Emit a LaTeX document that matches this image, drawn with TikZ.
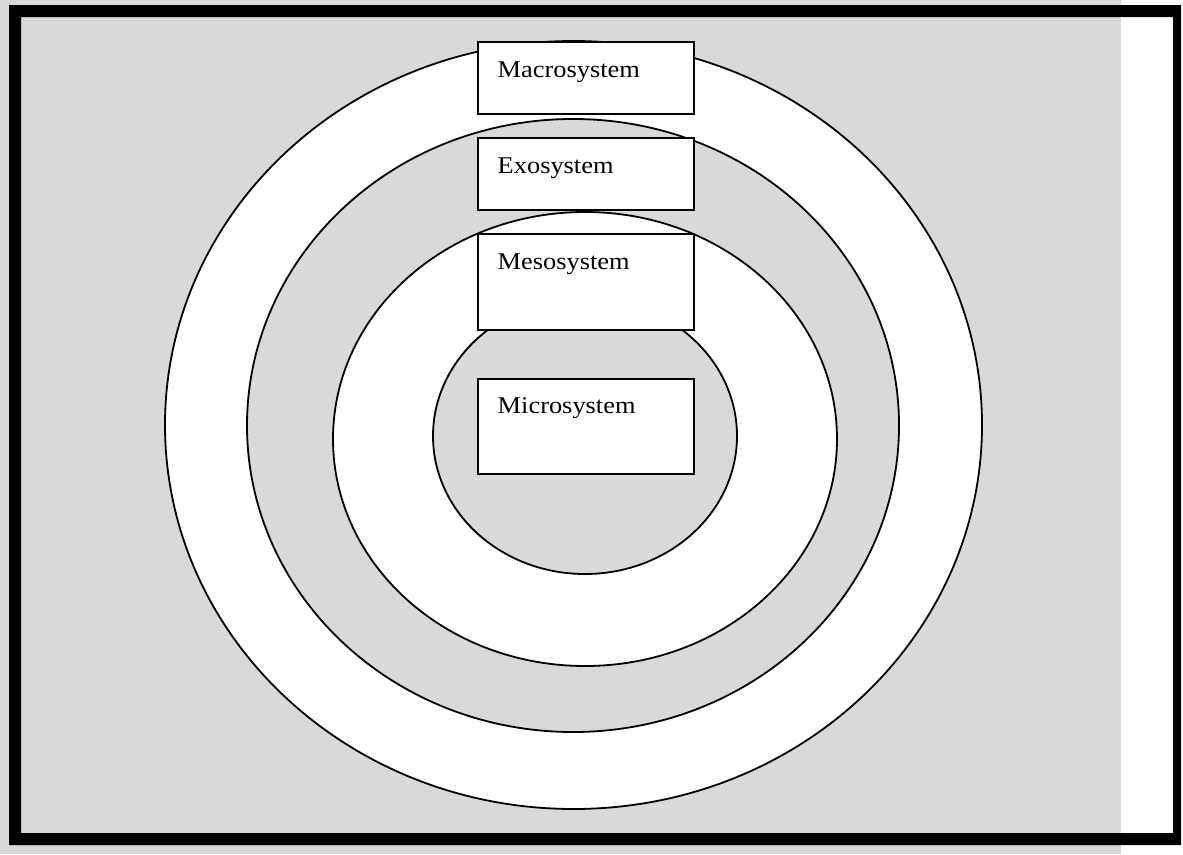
\documentclass[tikz,border=0pt]{standalone}
\usepackage{fontspec}
\setmainfont{Liberation Serif}
\definecolor{bggray}{HTML}{D9D9D9}
\tikzset{
  ring/.style={draw=black, line width=1.8pt},
  sysbox/.style={draw=black, fill=white, line width=1.6pt, rectangle, inner sep=0pt,
                 minimum width=216pt, anchor=north west},
  lbl/.style={font=\fontsize{24}{28}\selectfont, inner sep=0pt, anchor=base west, xscale=1.1},
}
\begin{document}
\begin{tikzpicture}[x=1pt, y=-1pt]
\useasboundingbox (0,0) rectangle (1183,854);
% background
\fill[bggray] (0,0) rectangle (1121,854);
\fill[white] (1121,0) rectangle (1183,854);
% frame
\fill[black, even odd rule] (9,5) rectangle (1181,845) (21,17) rectangle (1173,833);
% rings
\draw[ring, fill=white]   (573.5,425) ellipse [x radius=408.5pt, y radius=384pt];
\draw[ring, fill=bggray]  (573,425.5)  ellipse [x radius=326pt, y radius=306.5pt];
\draw[ring, fill=white]   (585,439)    ellipse [x radius=252pt, y radius=227pt];
\draw[ring, fill=bggray]  (585,436)    ellipse [x radius=152pt, y radius=138pt];
% boxes
\node[sysbox, minimum height=72pt] (macro) at (477,41) {};
\node[sysbox, minimum height=72pt] (exo)   at (477,137) {};
\node[sysbox, minimum height=96pt] (meso)  at (477,233) {};
\node[sysbox, minimum height=95pt] (micro) at (477,378) {};
\node[lbl] (macrot) at ([shift={(20.5,36)}]macro.north west) {Macrosystem};
\node[lbl] (exot)   at ([shift={(20.5,36)}]exo.north west)   {Exosystem};
\node[lbl] (mesot)  at ([shift={(20.5,36)}]meso.north west)  {Mesosystem};
\node[lbl] (microt) at ([shift={(20.5,35)}]micro.north west) {Microsystem};
\end{tikzpicture}
\end{document}
